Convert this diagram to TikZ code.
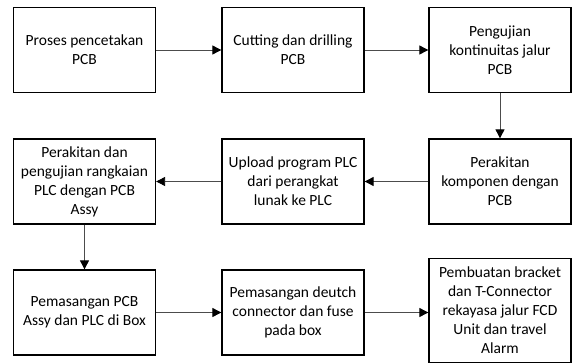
\documentclass[tikz,border=0pt]{standalone}
\usepackage{fontspec}
\setmainfont{Carlito}
\usetikzlibrary{arrows.meta}
\begin{document}
\begin{tikzpicture}[x=1pt,y=-1pt,
  stepbox/.style={draw=black, line width=1.3pt, rectangle, align=center,
    minimum width=142pt, minimum height=85pt, inner sep=2pt,
    font=\fontsize{15.5}{19}\selectfont},
  flow/.style={draw=black!70, line width=0.9pt,
    -{Triangle[length=9pt,width=9pt,fill=black,color=black]}}]
\useasboundingbox (0,0) rectangle (573,364);
% first row
\node[stepbox] (b1) at (84.5,50) {Proses pencetakan\\PCB};
\node[stepbox] (b2) at (293,50) {Cutting dan drilling\\PCB};
\node[stepbox] (b3) at (500,50) {Pengujian\\kontinuitas jalur\\PCB};
% second row
\node[stepbox] (b4) at (500,181.5) {Perakitan\\komponen dengan\\PCB};
\node[stepbox] (b5) at (293,181.5) {Upload program PLC\\dari perangkat\\lunak ke PLC};
\node[stepbox] (b6) at (84.5,181.5) {Perakitan dan\\pengujian rangkaian\\PLC dengan PCB\\Assy};
% third row
\node[stepbox] (b7) at (84.5,312.5) {Pemasangan PCB\\Assy dan PLC di Box};
\node[stepbox] (b8) at (293,312.5) {Pemasangan deutch\\connector dan fuse\\pada box};
\node[stepbox, minimum height=104pt] (b9) at (500,310.5) {Pembuatan bracket\\dan T-Connector\\rekayasa jalur FCD\\Unit dan travel\\Alarm};
% connectors
\draw[flow] (b1) -- (b2);
\draw[flow] (b2) -- (b3);
\draw[flow] (b3) -- (b4);
\draw[flow] (b4) -- (b5);
\draw[flow] (b5) -- (b6);
\draw[flow] (b6) -- (b7);
\draw[flow] (b7) -- (b8);
\draw[flow] (b8.east) -- (b9.west |- b8.east);
\end{tikzpicture}
\end{document}
